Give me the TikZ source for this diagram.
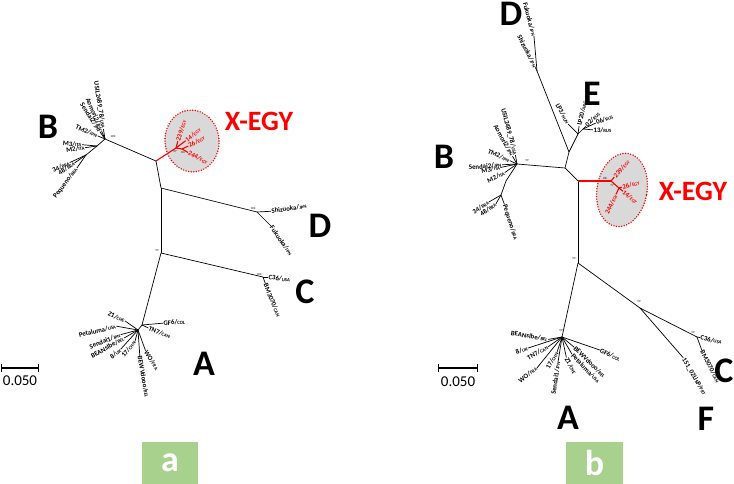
\documentclass[tikz,border=0pt]{standalone}
\usepackage{fontspec}
\setmainfont{Carlito}
\usetikzlibrary{shapes.geometric}
\definecolor{tagGreen}{HTML}{A9D18E}
\definecolor{haloGray}{HTML}{D9D9D9}
\newcommand{\ctry}[1]{{\fontsize{4.8}{5}\selectfont #1}}

\begin{document}
\begin{tikzpicture}[x=1pt,y=-1pt]
\tikzstyle{tree}=[draw=black, line width=0.7pt]
\tikzstyle{egy}=[draw=red, line width=1.1pt]
\tikzstyle{lbl}=[inner sep=0.4pt, font=\fontsize{6.8}{7}\selectfont\bfseries]
\tikzstyle{elbl}=[lbl, text=red]
\tikzstyle{bs}=[inner sep=0pt, font=\fontsize{3}{3}\selectfont]
\tikzstyle{clade}=[inner sep=0pt, font=\fontsize{36}{36}\selectfont\bfseries]
\tikzstyle{xegy}=[inner sep=0pt, text=red, font=\fontsize{28}{28}\selectfont\bfseries]
\tikzstyle{halo}=[ellipse, fill=haloGray, draw=red, line width=1.6pt, line cap=round, dash pattern=on 0pt off 2.6pt, inner sep=0pt]
\tikzstyle{tag}=[fill=tagGreen, text=white, minimum height=42pt, font=\fontsize{36}{36}\selectfont\bfseries]
\tikzstyle{scalebar}=[line width=1.2pt, |-|]
\useasboundingbox (0,0) rectangle (734,484);

  \coordinate (aB) at (105,139);
  \coordinate (aB1) at (97,146);
  \coordinate (aB2) at (86,155);
  \coordinate (aN1) at (156,161);
  \coordinate (aX) at (176,148);
  \coordinate (aX1) at (182,149);
  \coordinate (aN2) at (161,188);
  \coordinate (aD) at (257,212);
  \coordinate (aN3) at (161,253);
  \coordinate (aC) at (263,277);
  \coordinate (aA1) at (142,325);
  \coordinate (aA2) at (138,330);
  \node[halo, minimum width=54pt, minimum height=62pt, rotate=6] (aHalo) at (192,141) {};

  \node[lbl, anchor=east, rotate=-81] (aUSIL) at ([shift={(99:10pt)}]aB) {USIL2489\_78/\ctry{USA}};
  \node[lbl, anchor=east, rotate=-67] (aAom) at ([shift={(113:9pt)}]aB) {Aomori2/\ctry{JPN}};
  \node[lbl, anchor=east, rotate=-57] (aSen2) at ([shift={(125:9pt)}]aB) {Sendai2/\ctry{JPN}};
  \node[lbl, anchor=east, rotate=-23] (aTM2) at ([shift={(157:8pt)}]aB) {TM2/\ctry{JPN}};
  \node[lbl, anchor=east, rotate=-3] (aM3) at ([shift={(175:15pt)}]aB1) {M3/\ctry{ITA}};
  \node[lbl, anchor=east, rotate=8] (aM2) at ([shift={(188:12pt)}]aB1) {M2/\ctry{ITA}};
  \node[lbl, anchor=east, rotate=25] (a34) at ([shift={(205:18pt)}]aB2) {34/\ctry{BRA}};
  \node[lbl, anchor=east, rotate=33] (a48) at ([shift={(215:14pt)}]aB2) {48/\ctry{BRA}};
  \node[lbl, anchor=east, rotate=53] (aPeq) at ([shift={(235:16pt)}]aB2) {Pequeno/\ctry{BRA}};
  \node[elbl, anchor=west, rotate=72] (a239) at ([shift={(75:7pt)}]aX) {239/\ctry{EGY}};
  \node[elbl, anchor=west, rotate=38] (a14) at ([shift={(37:12pt)}]aX) {14/\ctry{EGY}};
  \node[elbl, anchor=west, rotate=28] (a26) at ([shift={(25:7pt)}]aX1) {26/\ctry{EGY}};
  \node[elbl, anchor=west, rotate=-28] (a244) at ([shift={(-30:7pt)}]aX1) {244/\ctry{EGY}};
  \node[lbl, anchor=west, rotate=8] (aShi) at ([shift={(3:14pt)}]aD) {Shizuoka/\ctry{JPN}};
  \node[lbl, anchor=west, rotate=-55] (aFuk) at ([shift={(-45:20pt)}]aD) {Fukuoka/\ctry{JPN}};
  \node[lbl, anchor=west, rotate=-8] (aC36) at ([shift={(0:5pt)}]aC) {C36/\ctry{USA}};
  \node[lbl, anchor=west, rotate=-68] (aBM) at ([shift={(-70:7pt)}]aC) {BM3070/\ctry{CAN}};
  \node[lbl, anchor=west, rotate=3] (aGF6) at ([shift={(5:21pt)}]aA1) {GF6/\ctry{COL}};
  \node[lbl, anchor=west, rotate=-22] (aTN7) at ([shift={(-25:7pt)}]aA1) {TN7/\ctry{CAN}};
  \node[lbl, anchor=west, rotate=-58] (aWO) at ([shift={(-70:22pt)}]aA2) {WO/\ctry{FRA}};
  \node[lbl, anchor=west, rotate=-80] (aBEWV) at ([shift={(-86:26pt)}]aA2) {BEWVdooo/\ctry{BEL}};
  \node[lbl, anchor=east, rotate=50] (a17) at ([shift={(255:12pt)}]aA2) {17/\ctry{CHN}};
  \node[lbl, anchor=east, rotate=40] (a8) at ([shift={(228:26pt)}]aA2) {8/\ctry{UK}};
  \node[lbl, anchor=east, rotate=30] (aBEAN) at ([shift={(210:16pt)}]aA2) {BEANslbe/\ctry{BEL}};
  \node[lbl, anchor=east, rotate=22] (aSen1) at ([shift={(195:18pt)}]aA2) {Sendai1/\ctry{JPN}};
  \node[lbl, anchor=east, rotate=14] (aPet) at ([shift={(170:22pt)}]aA2) {Petaluma/\ctry{USA}};
  \node[lbl, anchor=east, rotate=-25] (aZ1) at ([shift={(145:16pt)}]aA2) {Z1/\ctry{CHE}};

\path[tree] (aB) edge (aN1) edge (aB1) edge (aUSIL.east) edge (aAom.east) edge (aSen2.east) edge (aTM2.east)
            (aB1) edge (aB2) edge (aM3.east) edge (aM2.east)
            (aB2) edge (a34.east) edge (a48.east) edge (aPeq.east)
            (aN1) edge (aN2)
            (aN2) edge (aD) edge (aN3)
            (aD) edge (aShi.west) edge (aFuk.west)
            (aN3) edge (aC) edge (aA1)
            (aC) edge (aC36.west) edge (aBM.west)
            (aA1) edge (aA2) edge (aGF6.west) edge (aTN7.west)
            (aA2) edge (aWO.west) edge (aBEWV.west) edge (a17.east) edge (a8.east) edge (aBEAN.east)
                  edge (aSen1.east) edge (aPet.east) edge (aZ1.east)
            ;
\path[egy] (aN1) edge (aX)
           (aX) edge (aX1) edge (a239.west) edge (a14.west)
           (aX1) edge (a26.west) edge (a244.west)
           ;
  \node[bs] (aBsB) at (113,137) {100};
  \node[bs] (aBsX) at (175,152) {97};
  \node[bs] (aBsX1) at (183,152) {84};
  \node[bs] (aBsD) at (253,209) {100};
  \node[bs] (aBsC) at (259,275) {100};
  \node[bs] (aBsN3) at (157,251) {99};

  \node[clade] (aLA) at (204,364) {A};
  \node[clade] (aLB) at (48,127) {B};
  \node[clade] (aLC) at (305,292) {C};
  \node[clade] (aLD) at (320,226) {D};
  \node[xegy] (aLX) at (259,121) {X-EGY};
  \coordinate (sa1) at (1,368);
  \coordinate (sa2) at (39,368);
  \draw[scalebar] (sa1) -- (sa2);
  \node[font=\fontsize{15}{15}\selectfont] (aScale) at (20,381) {0.050};
  \node[tag, minimum width=56pt] (aTag) at (170,463) {a};

  \coordinate (bB) at (517,164);
  \coordinate (bB1) at (506,181);
  \coordinate (bB2) at (501,195);
  \coordinate (bN2) at (565,168);
  \coordinate (bQ) at (569,152);
  \coordinate (bD) at (537,71);
  \coordinate (bE) at (578,134);
  \coordinate (bE1) at (583,129);
  \coordinate (bN3) at (578,181);
  \coordinate (bX) at (611,181);
  \coordinate (bX1) at (619,188);
  \coordinate (bN4) at (578,263);
  \coordinate (bA) at (562,337);
  \coordinate (bCF) at (640,308);
  \coordinate (bC) at (697,337);
  \node[halo, minimum width=50pt, minimum height=74pt, rotate=-10] (bHalo) at (622,190) {};

  \node[lbl, anchor=east, rotate=-75] (bUSIL) at ([shift={(100:9pt)}]bB) {USIL2489\_78/\ctry{USA}};
  \node[lbl, anchor=east, rotate=-61] (bAom) at ([shift={(120:9pt)}]bB) {Aomori2/\ctry{JPN}};
  \node[lbl, anchor=east, rotate=-24] (bTM2) at ([shift={(155:8pt)}]bB) {TM2/\ctry{JPN}};
  \node[lbl, anchor=east, rotate=5] (bSen2) at ([shift={(183:15pt)}]bB) {Sendai2/\ctry{JPN}};
  \node[lbl, anchor=east, rotate=10] (bM3) at ([shift={(192:17pt)}]bB) {M3/\ctry{ITA}};
  \node[lbl, anchor=east, rotate=27] (bM2) at ([shift={(215:15pt)}]bB) {M2/\ctry{ITA}};
  \node[lbl, anchor=east, rotate=33] (b34) at ([shift={(210:14pt)}]bB2) {34/\ctry{BRA}};
  \node[lbl, anchor=east, rotate=36] (b48) at ([shift={(240:10pt)}]bB2) {48/\ctry{BRA}};
  \node[lbl, anchor=west, rotate=-72] (bPeq) at ([shift={(-70:10pt)}]bB2) {Pequeno/\ctry{BRA}};
  \node[lbl, anchor=east, rotate=-75] (bFuk) at ([shift={(95:35pt)}]bD) {Fukuoka/\ctry{JPN}};
  \node[lbl, anchor=east, rotate=-63] (bShi) at ([shift={(115:4pt)}]bD) {Shizuoka/\ctry{JPN}};
  \node[lbl, anchor=east, rotate=-62] (bLP3) at ([shift={(135:14pt)}]bE) {LP3/\ctry{HUN}};
  \node[lbl, anchor=west, rotate=77] (bLP20) at ([shift={(82:8pt)}]bE) {LP20/\ctry{ARG}};
  \node[lbl, anchor=west, rotate=45] (b02) at ([shift={(45:4pt)}]bE1) {02/\ctry{RUS}};
  \node[lbl, anchor=west, rotate=22] (b06) at ([shift={(25:14pt)}]bE1) {06/\ctry{RUS}};
  \node[lbl, anchor=west, rotate=0] (b13) at ([shift={(-5:10pt)}]bE1) {13/\ctry{RUS}};
  \node[elbl, anchor=west, rotate=48] (b239) at ([shift={(50:5pt)}]bX) {239/\ctry{EGY}};
  \node[elbl, anchor=east, rotate=65] (b244) at ([shift={(245:7pt)}]bX1) {244/\ctry{EGY}};
  \node[elbl, anchor=west, rotate=15] (b26) at ([shift={(15:3pt)}]bX1) {26/\ctry{EGY}};
  \node[elbl, anchor=west, rotate=-40] (b14) at ([shift={(-40:5pt)}]bX1) {14/\ctry{EGY}};
  \node[lbl, anchor=west, rotate=-60] (bF) at ([shift={(-49:66pt)}]bCF) {151\_02LisP/\ctry{PRT}};
  \node[lbl, anchor=west, rotate=-12] (bC36) at ([shift={(-10:3pt)}]bC) {C36/\ctry{USA}};
  \node[lbl, anchor=west, rotate=-63] (bBM) at ([shift={(-70:14pt)}]bC) {BM3070/\ctry{CAN}};
  \node[lbl, anchor=east, rotate=-10] (bBEAN) at ([shift={(190:14pt)}]bA) {BEANslbe/\ctry{BEL}};
  \node[lbl, anchor=east, rotate=20] (b8) at ([shift={(198:36pt)}]bA) {8/\ctry{UK}};
  \node[lbl, anchor=east, rotate=30] (bTN7) at ([shift={(215:17pt)}]bA) {TN7/\ctry{CAN}};
  \node[lbl, anchor=east, rotate=37] (bWO) at ([shift={(231:40pt)}]bA) {WO/\ctry{FRA}};
  \node[lbl, anchor=east, rotate=60] (b17) at ([shift={(252:16pt)}]bA) {17/\ctry{CHN}};
  \node[lbl, anchor=east, rotate=82] (bSen1) at ([shift={(261:25pt)}]bA) {Sendai1/\ctry{JPN}};
  \node[lbl, anchor=west, rotate=-62] (bZ1) at ([shift={(-78:21pt)}]bA) {Z1/\ctry{CHE}};
  \node[lbl, anchor=west, rotate=-46] (bPet) at ([shift={(-60:20pt)}]bA) {Petaluma/\ctry{USA}};
  \node[lbl, anchor=west, rotate=-44] (bBEWV) at ([shift={(-40:16pt)}]bA) {BEWVdooo/\ctry{BEL}};
  \node[lbl, anchor=west, rotate=-25] (bGF6) at ([shift={(-19:40pt)}]bA) {GF6/\ctry{COL}};

\path[tree] (bB) edge (bN2) edge (bB1) edge (bUSIL.east) edge (bAom.east) edge (bTM2.east)
                 edge (bSen2.east) edge (bM3.east) edge (bM2.east)
            (bB1) edge (bB2)
            (bB2) edge (b34.east) edge (b48.east) edge (bPeq.west)
            (bN2) edge (bQ) edge (bN3)
            (bQ) edge (bD) edge (bE)
            (bD) edge (bFuk.east) edge (bShi.east)
            (bE) edge (bE1) edge (bLP3.east) edge (bLP20.west)
            (bE1) edge (b02.west) edge (b06.west) edge (b13.west)
            (bN3) edge (bN4)
            (bN4) edge (bA) edge (bCF)
            (bCF) edge (bC) edge (bF.west)
            (bC) edge (bC36.west) edge (bBM.west)
            (bA) edge (bBEAN.east) edge (b8.east) edge (bTN7.east) edge (bWO.east) edge (b17.east)
                 edge (bSen1.east) edge (bZ1.west) edge (bPet.west) edge (bBEWV.west) edge (bGF6.west)
            ;
\path[egy] (bN3) edge (bX)
           (bX) edge (bX1) edge (b239.west)
           (bX1) edge (b244.east) edge (b26.west) edge (b14.west)
           ;
  \node[bs] (bBsB) at (527,161) {99};
  \node[bs] (bBsX) at (605,178) {88};
  \node[bs] (bBsX1) at (612,186) {77};
  \node[bs] (bBsN4) at (574,259) {99};
  \node[bs] (bBsCF) at (639,302) {99};
  \node[bs] (bBsC) at (693,333) {99};
  \node[bs] (bBsA) at (561,331) {99};

  \node[clade] (bLA) at (568,418) {A};
  \node[clade] (bLB) at (444,157) {B};
  \node[clade] (bLC) at (724,371) {C};
  \node[clade] (bLD) at (511,14) {D};
  \node[clade] (bLE) at (592,94) {E};
  \node[clade] (bLF) at (706,419) {F};
  \node[xegy] (bLX) at (693,191) {X-EGY};
  \coordinate (sb1) at (438,368);
  \coordinate (sb2) at (478,368);
  \draw[scalebar] (sb1) -- (sb2);
  \node[font=\fontsize{15}{15}\selectfont] (bScale) at (458,382) {0.050};
  \node[tag, minimum width=57pt] (bTag) at (594.5,463) {b};
\end{tikzpicture}
\end{document}
